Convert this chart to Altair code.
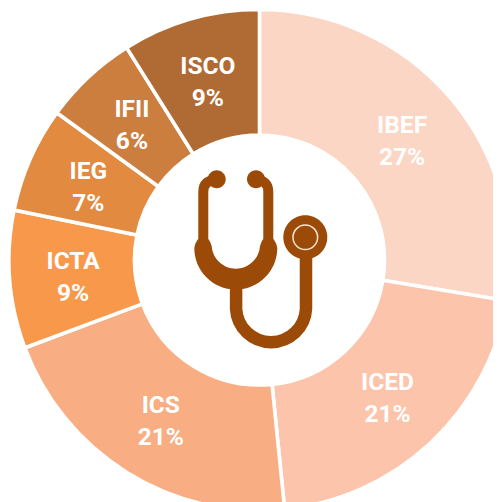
import altair as alt
import pandas as pd

categories = ["IBEF", "ICED", "ICS", "ICTA", "IEG", "IFII", "ISCO"]
values = [27.6, 20.8, 20.9, 8.9, 6.8, 6.1, 8.9]
labels = ["27%", "21%", "21%", "9%", "7%", "6%", "9%"]
colors = ["#FBD6C5", "#FBC4AB", "#F8AD83", "#F8984A", "#E38A41", "#CC7E3F", "#B06A33"]

df = pd.DataFrame({
    "cat": categories,
    "val": values,
    "order": list(range(len(categories))),
    "label": [f"{c}\n{l}" for c, l in zip(categories, labels)],
})

W, H = 485, 494
CX, CY = 251.5, 252
BROWN = "#9B4A07"

base = alt.Chart(df).encode(
    theta=alt.Theta("val:Q", stack=True),
    order=alt.Order("order:Q"),
    x=alt.value(CX),
    y=alt.value(CY),
)

arcs = base.mark_arc(radius=250.5, innerRadius=125, stroke="white", strokeWidth=3.6, clip=True).encode(
    color=alt.Color("cat:N", scale=alt.Scale(domain=categories, range=colors), legend=None)
)

text = base.mark_text(
    radius=187, font="Roboto", fontSize=24.5, fontWeight="bold", color="white",
    lineBreak="\n", lineHeight=32, align="center", baseline="middle", dy=-13,
).encode(text="label:N")

# Stethoscope icon, in page pixels shifted to the ring's centre
PX, PY = 259.5, 260


def pt(x, y):
    return f"{x - PX:.1f} {y - PY:.1f}"


def circle(x, y, r):
    return f"M{pt(x - r, y)} A{r} {r} 0 1 0 {pt(x + r, y)} A{r} {r} 0 1 0 {pt(x - r, y)} Z"


ear_tubes = (
    f"M{pt(216, 180)} Q{pt(203.3, 180)} {pt(203.3, 192)} L{pt(203.3, 240)} "
    f"M{pt(256, 180)} Q{pt(268.3, 180)} {pt(268.3, 192)} L{pt(268.3, 240)}"
)
yoke = (
    f"M{pt(203.3, 236)} Q{pt(196, 238)} {pt(194.3, 248)} "
    f"A41.5 41.5 0 0 0 {pt(277.3, 248)} Q{pt(275.5, 238)} {pt(268.3, 236)} "
    f"Q{pt(262, 238)} {pt(260, 246)} A24.2 24.2 0 0 1 {pt(211.7, 246)} "
    f"Q{pt(209.5, 238)} {pt(203.3, 236)} Z"
)
lower = f"M{pt(236.1, 282)} L{pt(236.1, 309)} A35 35 0 0 0 {pt(306, 309)} L{pt(306, 255)}"
ears_l = circle(216.7, 179.3, 9)
ears_r = circle(256, 179.3, 9)
chest = circle(305.3, 237.3, 22)
ring = circle(305.3, 237.3, 12.3)

anchor = alt.Chart(pd.DataFrame({"a": [0]}))


def icon(path, filled, color, width=0):
    kw = dict(shape=path, size=4, opacity=1, filled=filled)
    if filled:
        kw.update(fill=color)
    else:
        kw.update(stroke=color, strokeWidth=width, strokeCap="butt")
    return anchor.mark_point(**kw).encode(x=alt.value(CX), y=alt.value(CY))


chart = alt.layer(
    arcs,
    text,
    icon(ear_tubes, False, BROWN, 10),
    icon(ears_l, True, BROWN),
    icon(ears_r, True, BROWN),
    icon(yoke, True, BROWN),
    icon(lower, False, BROWN, 12.5),
    icon(chest, True, BROWN),
    icon(ring, False, "#F6E7D6", 1.5),
).properties(
    width=W, height=H, padding=0, autosize=alt.AutoSizeParams(type="none"), background="white"
).configure_view(stroke=None)

chart.save("out.html", embed_options={"renderer": "svg", "actions": False})
